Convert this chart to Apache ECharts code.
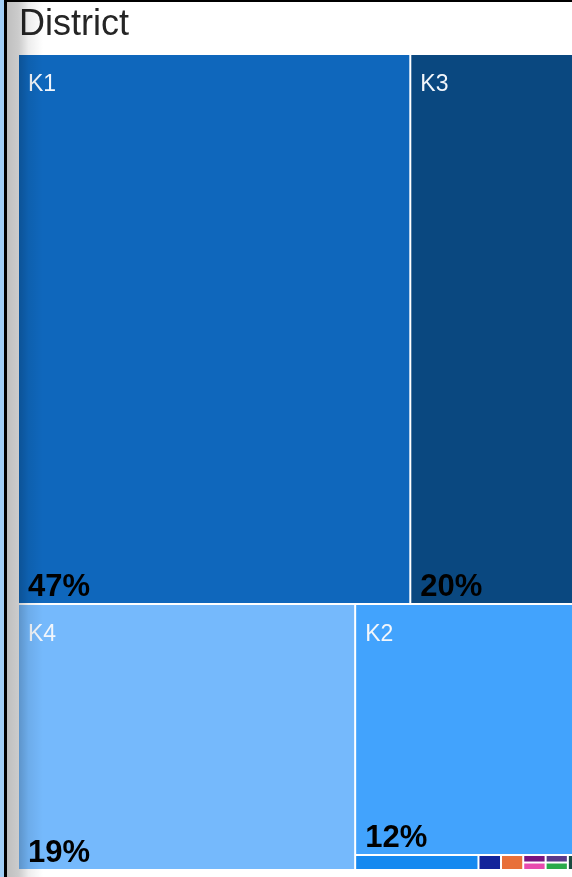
<!DOCTYPE html>
<html>
<head>
<meta charset="utf-8">
<script src="https://cdn.jsdelivr.net/npm/echarts@6/dist/echarts.min.js"></script>
<style>
  html, body { margin: 0; padding: 0; background: #fff; }
  #chart { width: 572px; height: 877px; }
</style>
</head>
<body>
<div id="chart"></div>
<script>
// Data (share of total, %)
const titleText = 'District';
const names = ['K1', 'K3', 'K4', 'K2', 'S1', 'S2', 'S3', 'S4', 'S5', 'S6', 'S7', 'S8'];
const values = [47.3, 20.1, 19.65, 12.2, 0.405, 0.074, 0.073, 0.0368, 0.0367, 0.0366, 0.0365, 0.03];
const colors = ['#0f67bc', '#0a4880', '#75b9fc', '#42a3fd', '#1589f0', '#13249a', '#e8703a', '#7a1480', '#e84aae', '#5a3a8a', '#2aaa4a', '#1a4a40'];
const showLabel = [true, true, true, true, false, false, false, false, false, false, false, false];

const total = values.reduce((a, b) => a + b, 0);
const font = '"Liberation Sans", Arial, sans-serif';

const nameData = names.map((n, i) => ({
  name: n,
  value: values[i],
  itemStyle: { color: colors[i] },
  label: { show: showLabel[i] }
}));
const pctData = names.map((n, i) => ({
  name: n,
  value: values[i],
  itemStyle: { color: 'rgba(0,0,0,0)' },
  label: { show: showLabel[i] }
}));

const common = {
  type: 'treemap',
  left: 19, top: 55, width: 557, height: 814,
  roam: false, nodeClick: false,
  breadcrumb: { show: false },
  squareRatio: 0.5 * (1 + Math.sqrt(5)),
  animation: false,
  emphasis: { disabled: true },
  itemStyle: { borderWidth: 0, gapWidth: 2, borderColor: '#fff' },
  levels: [{ itemStyle: { borderWidth: 0, gapWidth: 2, borderColor: '#fff' } }]
};

const chart = echarts.init(document.getElementById('chart'), null, { renderer: 'canvas' });
chart.setOption({
  backgroundColor: '#ffffff',
  animation: false,
  title: {
    text: titleText,
    left: 19, top: 7, padding: 0,
    textStyle: { fontSize: 36, fontWeight: 'normal', color: '#252525', fontFamily: font }
  },
  series: [
    Object.assign({}, common, {
      name: 'names',
      data: nameData,
      label: {
        show: true,
        position: [4, 13],
        formatter: '{b}',
        color: '#f2f6fb',
        fontSize: 23,
        fontFamily: font
      }
    }),
    Object.assign({}, common, {
      name: 'pct',
      silent: true,
      data: pctData,
      label: {
        show: true,
        position: 'insideBottomLeft',
        distance: 0,
        offset: [4, 5],
        formatter: p => Math.floor(p.value / total * 100) + '%',
        color: '#000',
        fontSize: 31,
        fontWeight: 'bold',
        fontFamily: font
      }
    })
  ],
  graphic: [
    { type: 'rect', z: 100, silent: true, shape: { x: 0, y: 0, width: 4, height: 877 }, style: { fill: '#a2cef6' } },
    { type: 'rect', z: 101, silent: true, shape: { x: 4, y: 0, width: 3, height: 877 }, style: { fill: '#000' } },
    { type: 'rect', z: 101, silent: true, shape: { x: 4, y: 0, width: 568, height: 2 }, style: { fill: '#000' } },
    {
      type: 'rect', z: 100, silent: true,
      shape: { x: 7, y: 2, width: 36, height: 875 },
      style: {
        fill: {
          type: 'linear', x: 0, y: 0, x2: 1, y2: 0,
          colorStops: [
            { offset: 0, color: 'rgba(0,0,0,0.25)' },
            { offset: 0.33, color: 'rgba(0,0,0,0.2)' },
            { offset: 0.6, color: 'rgba(0,0,0,0.07)' },
            { offset: 1, color: 'rgba(0,0,0,0)' }
          ]
        }
      }
    }
  ]
});
</script>
</body>
</html>
